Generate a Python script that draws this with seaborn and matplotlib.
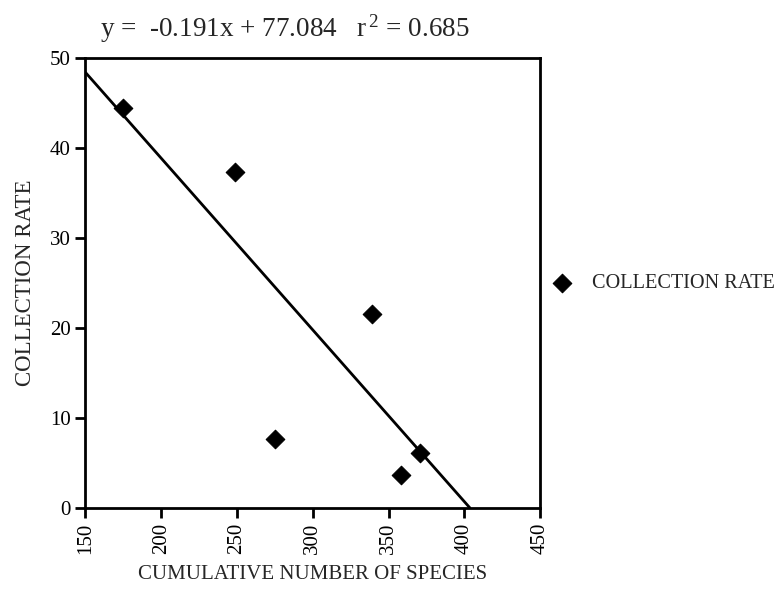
import matplotlib
matplotlib.use("Agg")
import matplotlib.pyplot as plt
import pandas as pd
import seaborn as sns

# values
species = [175, 249, 275, 339, 358, 371]
rate = [44.5, 37.3, 7.7, 21.6, 3.6, 6.1]
slope = -0.191
intercept = 77.084
r2 = 0.685
x_ticks = [150, 200, 250, 300, 350, 400, 450]
y_ticks = [0, 10, 20, 30, 40, 50]

df = pd.DataFrame({"species": species, "rate": rate})

sns.set_style("ticks")
plt.rcParams["font.family"] = ["Liberation Serif", "DejaVu Serif"]
plt.rcParams["mathtext.fontset"] = "custom"
plt.rcParams["mathtext.rm"] = "Liberation Serif"
plt.rcParams["mathtext.default"] = "rm"

fig = plt.figure(figsize=(7.83, 5.94), dpi=100)
ax = fig.add_axes([0.109, 0.145, 0.581, 0.757])

sns.scatterplot(data=df, x="species", y="rate", marker="D", s=90, color="black",
                edgecolor="black", label="COLLECTION RATE", ax=ax, zorder=3)

# regression line from the printed equation
ax.axline((0, intercept), slope=slope, color="black", lw=2)

ax.set_xlim(150, 450)
ax.set_ylim(0, 50)
ax.set_xticks(x_ticks)
ax.set_yticks(y_ticks)
ax.set_xticklabels([str(t) for t in x_ticks], rotation=90, fontsize=15)
ax.set_yticklabels([str(t) for t in y_ticks], fontsize=15)
ax.tick_params(direction="out", length=7, width=2, colors="black")
for sp in ax.spines.values():
    sp.set_visible(True)
    sp.set_linewidth(2)
    sp.set_color("black")

ax.set_xlabel("CUMULATIVE NUMBER OF SPECIES", fontsize=15, labelpad=8)
ax.set_ylabel("COLLECTION RATE", fontsize=16.5, labelpad=10)

fig.text(0.364, 0.952, "y =  %.3fx + %.3f   r$^{\\,2}$ = %.3f" % (slope, intercept, r2),
         ha="center", va="center", fontsize=19.5)

ax.legend(loc="center left", bbox_to_anchor=(0.669, 0.523), bbox_transform=fig.transFigure,
          frameon=False, fontsize=14.6, handletextpad=0.45, markerscale=1.0)

fig.savefig("out.png", dpi=100)
